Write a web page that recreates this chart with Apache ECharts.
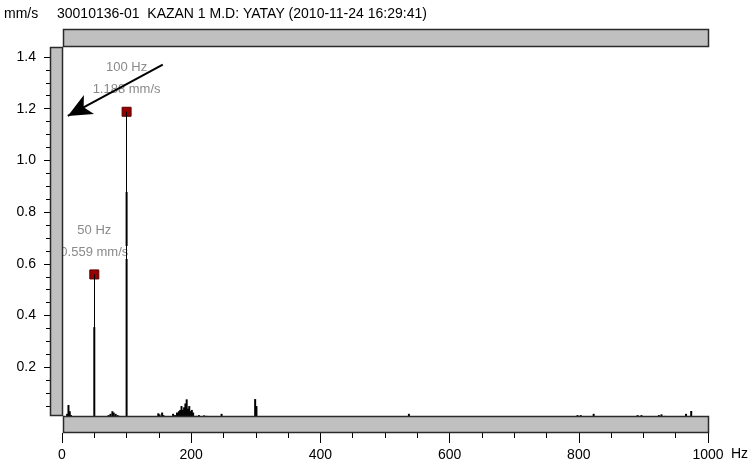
<!DOCTYPE html>
<html><head><meta charset="utf-8">
<script src="https://cdn.jsdelivr.net/npm/echarts@6/dist/echarts.min.js"></script>
<style>html,body{margin:0;padding:0;background:#fff}#c{width:756px;height:470px}</style>
</head><body><div id="c"></div>
<script>
// ---- data ----
const unitLabel = 'mm/s';
const chartTitle = '30010136-01  KAZAN 1 M.D: YATAY (2010-11-24 16:29:41)';
const xUnit = 'Hz';
const xMajorTicks = [0, 200, 400, 600, 800, 1000];
const xMinorTicks = [50, 100, 150, 250, 300, 350, 450, 500, 550, 650, 700, 750, 850, 900, 950];
const yMajorTicks = [0.2, 0.4, 0.6, 0.8, 1.0, 1.2, 1.4];
const yMinorTicks = [0.05, 0.1, 0.15, 0.25, 0.3, 0.35, 0.45, 0.5, 0.55, 0.65, 0.7, 0.75, 0.85, 0.9, 0.95,
  1.05, 1.1, 1.15, 1.25, 1.3, 1.35];
// spectrum lines: frequency (Hz)
const specFreq = [8, 10, 12, 14, 16, 59, 72, 75, 78, 80, 83, 86, 88, 50, 100,
  149, 151, 155, 157, 172, 175, 178, 181, 183, 185, 187, 189, 191, 193, 195, 197, 199, 201, 203,
  208, 212, 216, 220, 224, 229, 247, 299, 301,
  537, 701, 781, 798, 803, 823, 891, 897, 924, 928, 933, 966, 974];
// spectrum amplitude (mm/s)
const specAmp = [0.02, 0.054, 0.03, 0.015, 0.01, 0.01, 0.015, 0.02, 0.03, 0.025, 0.02, 0.015, 0.012, 0.355, 0.878,
  0.022, 0.018, 0.025, 0.015, 0.02, 0.015, 0.025, 0.03, 0.035, 0.05, 0.035, 0.045, 0.06, 0.076, 0.04, 0.05, 0.03, 0.035, 0.025,
  0.012, 0.015, 0.01, 0.014, 0.012, 0.01, 0.02, 0.077, 0.05,
  0.02, 0.01, 0.01, 0.015, 0.015, 0.02, 0.015, 0.015, 0.015, 0.018, 0.012, 0.02, 0.031];
// marked peaks
const peakFreq = [50, 100];
const peakAmp = [0.559, 1.188];
// annotation arrow (data space): from -> to
const arrowFrom = [156, 1.37];
const arrowTo = [9, 1.172];

// ---- chart ----
const FONT = 'Liberation Sans';
const chart = echarts.init(document.getElementById('c'), null, {renderer: 'canvas'});
const specData = specFreq.map((f, i) => [f, specAmp[i]]);
const peakData = peakFreq.map((f, i) => [f, peakAmp[i]]);
const xMin = 0, xMax = 1000, yMin = 0, yMax = 1.45;
const barStyle = {fill: '#c0c0c0', stroke: '#2a2a2a', lineWidth: 1.5};
const tickStyle = {color: '#000', width: 1};
const hidden = {show: false};
function hiddenAxis(type, gridIndex, min, max) {
  return {type, gridIndex, min, max, show: false, axisLine: hidden, axisTick: hidden, axisLabel: hidden, splitLine: hidden};
}

chart.setOption({
  animation: false,
  backgroundColor: '#fff',
  textStyle: {fontFamily: FONT},
  title: [
    {text: unitLabel, left: 4, top: 7, padding: 0,
     textStyle: {fontSize: 14, fontWeight: 'normal', color: '#000', fontFamily: FONT}},
    {text: chartTitle, left: 57, top: 7, padding: 0,
     textStyle: {fontSize: 14, fontWeight: 'normal', color: '#000', fontFamily: FONT}}
  ],
  grid: [
    {left: 62, right: 48, top: 44, bottom: 51},   // data
    {left: 62, right: 48, top: 44, bottom: 37},   // x ticks (below bottom bar)
    {left: 50, right: 48, top: 44, bottom: 51}    // y ticks (left of side bar)
  ],
  xAxis: [
    hiddenAxis('value', 0, xMin, xMax),
    {type: 'value', gridIndex: 1, min: xMin, max: xMax, position: 'bottom',
     axisLine: {show: false}, splitLine: hidden,
     axisTick: {show: true, customValues: xMajorTicks, length: 10, lineStyle: tickStyle},
     axisLabel: {show: true, customValues: xMajorTicks, margin: 15, fontSize: 14, color: '#000', fontFamily: FONT,
       formatter: v => String(v)}},
    {type: 'value', gridIndex: 1, min: xMin, max: xMax, position: 'bottom',
     axisLine: {show: false}, splitLine: hidden,
     axisTick: {show: true, customValues: xMinorTicks, length: 5, lineStyle: tickStyle},
     axisLabel: hidden},
    hiddenAxis('value', 2, xMin, xMax)
  ],
  yAxis: [
    hiddenAxis('value', 0, yMin, yMax),
    hiddenAxis('value', 1, yMin, yMax),
    {type: 'value', gridIndex: 2, min: yMin, max: yMax, position: 'left',
     axisLine: {show: false}, splitLine: hidden,
     axisTick: {show: true, customValues: yMajorTicks, length: 6, lineStyle: tickStyle},
     axisLabel: {show: true, customValues: yMajorTicks, margin: 14, fontSize: 14, color: '#000', fontFamily: FONT,
       formatter: v => v.toFixed(1)}},
    {type: 'value', gridIndex: 2, min: yMin, max: yMax, position: 'left',
     axisLine: {show: false}, splitLine: hidden,
     axisTick: {show: true, customValues: yMinorTicks, length: 4, lineStyle: tickStyle},
     axisLabel: hidden}
  ],
  series: [
    {type: 'bar', xAxisIndex: 0, yAxisIndex: 0, data: specData, barWidth: 2,
     itemStyle: {color: '#000'}, silent: true, z: 2},
    {type: 'scatter', xAxisIndex: 0, yAxisIndex: 0, data: peakData, symbol: 'rect', symbolSize: 9,
     itemStyle: {color: '#960000', borderColor: '#5a0000', borderWidth: 1, opacity: 1},
     z: 4, silent: true,
     label: {show: true, position: 'top', distance: 6,
       formatter: p => `{a|${p.value[0]} Hz}\n{a|${p.value[1].toFixed(3)} mm/s}`,
       rich: {a: {fontSize: 13, lineHeight: 22, color: '#8a8a8a', backgroundColor: '#fff', fontFamily: FONT, align: 'center'}}},
     markLine: {silent: true, symbol: ['none', 'none'], label: {show: false},
       lineStyle: {color: '#000', width: 1, type: 'solid'},
       data: peakData.map(p => [{coord: [p[0], 0]}, {coord: [p[0], p[1]]}])}},
    {type: 'scatter', xAxisIndex: 0, yAxisIndex: 0, data: [], z: 6, silent: true,
     markLine: {silent: true, symbol: ['none', 'arrow'], symbolSize: [16, 24], label: {show: false},
       lineStyle: {color: '#000', width: 2, type: 'solid'},
       data: [[{coord: arrowFrom}, {coord: arrowTo}]]}}
  ],
  graphic: [
    {type: 'rect', z: 100, shape: {x: 63.5, y: 29.5, width: 645, height: 17}, style: barStyle},
    {type: 'rect', z: 100, shape: {x: 50.5, y: 47.5, width: 12, height: 368}, style: barStyle},
    {type: 'rect', z: 100, shape: {x: 63.5, y: 416.5, width: 645, height: 16}, style: barStyle},
    {type: 'text', z: 100, left: 731, top: 447,
     style: {text: xUnit, fontSize: 14, fill: '#000', fontFamily: FONT}}
  ]
});
</script></body></html>
